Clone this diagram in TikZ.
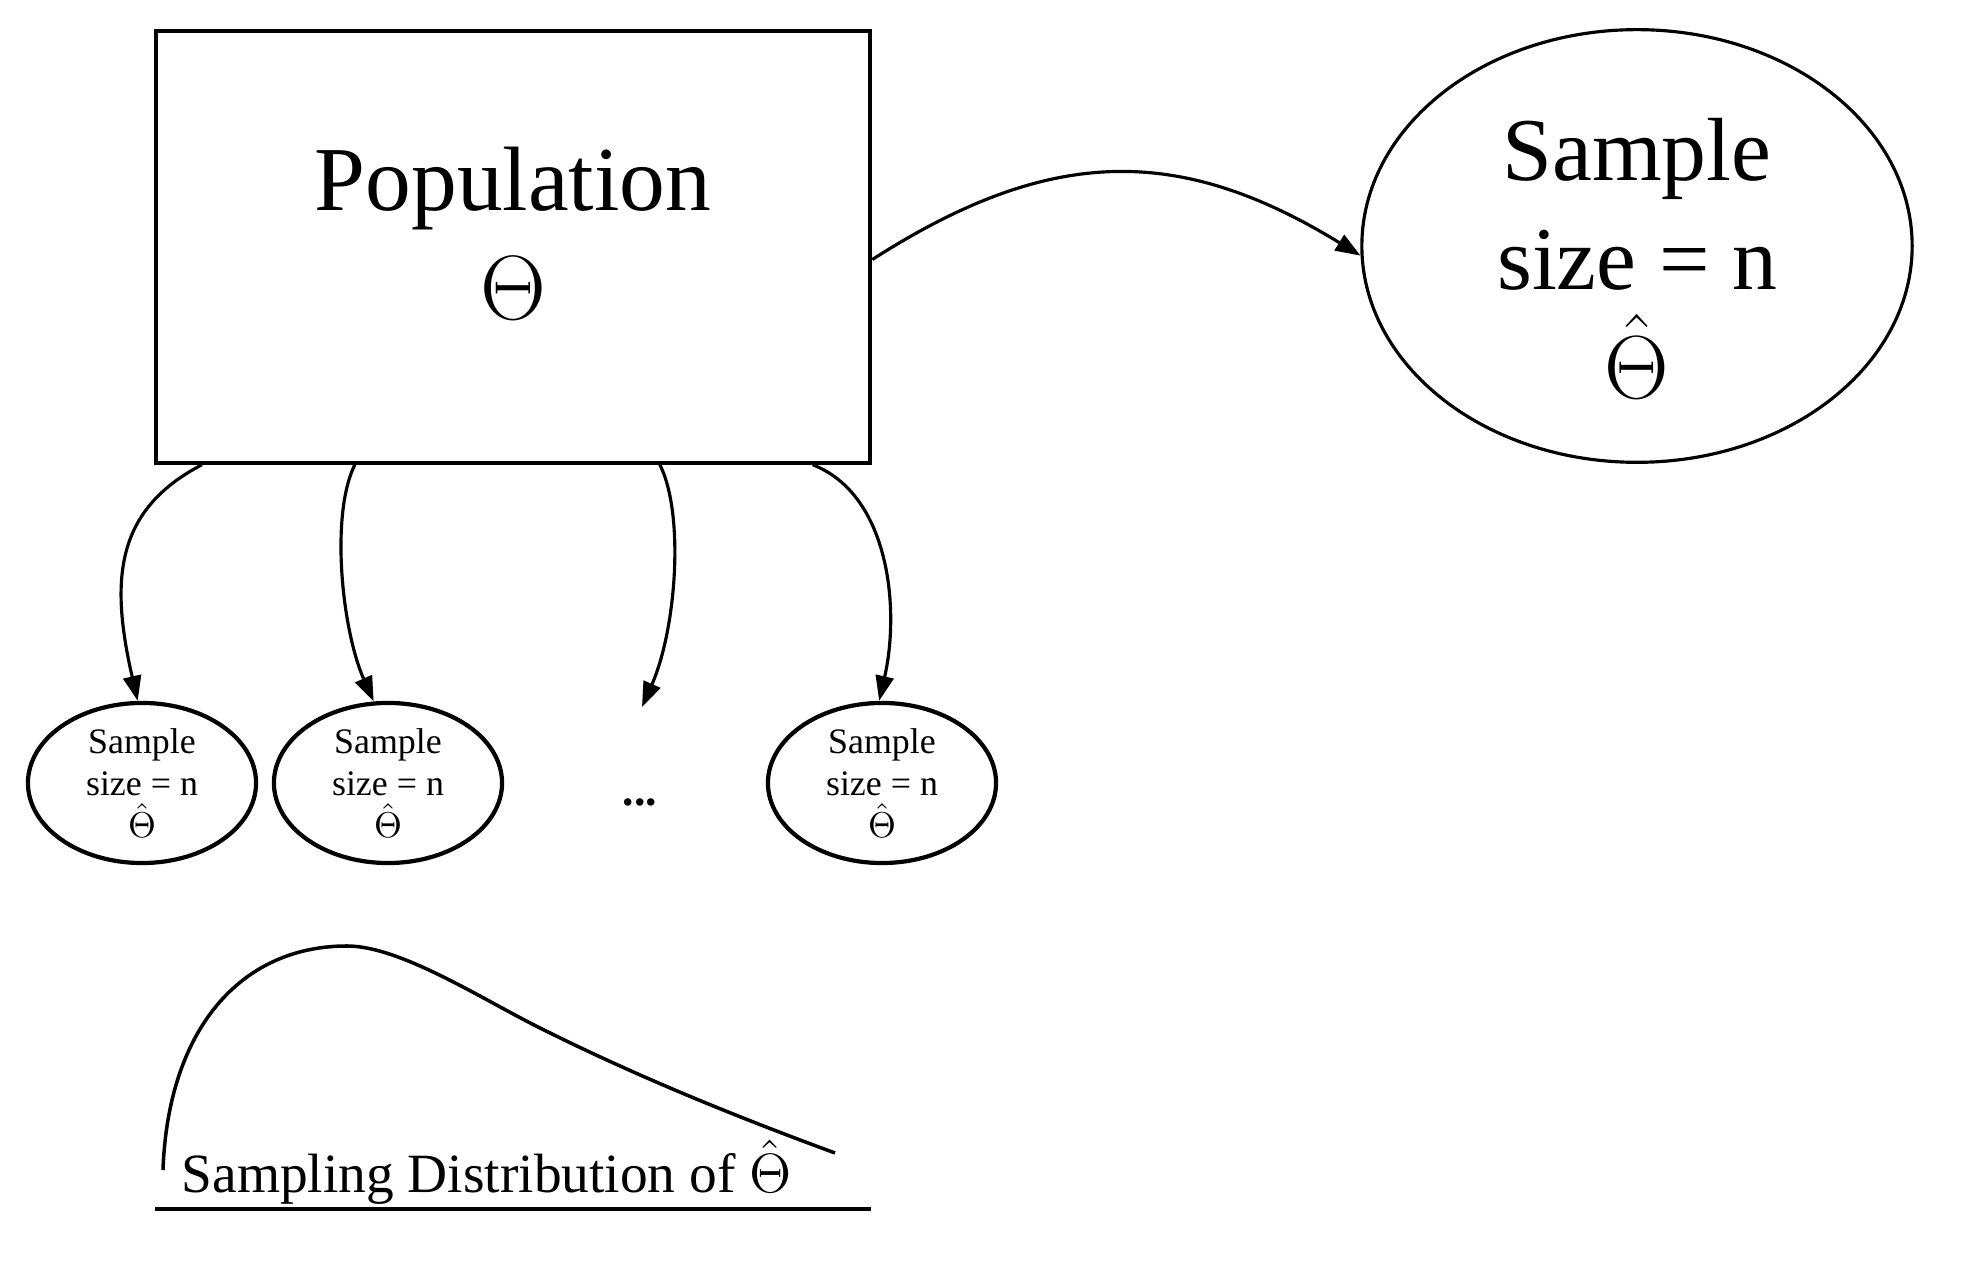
\RequirePackage{fix-cm}
\documentclass[tikz,border=0pt]{standalone}
\usepackage[no-math]{fontspec}
\setmainfont{Liberation Serif}
\usetikzlibrary{shapes.geometric,arrows.meta}
\begin{document}
\begin{tikzpicture}[x=0.01cm,y=-0.01cm,
	popbox/.style={draw, line width=1.2pt, minimum width=7.14cm, minimum height=4.31cm, align=center, font=\fontsize{26}{31}\selectfont},
	bigsample/.style={draw, ellipse, line width=0.9pt, minimum width=5.5cm, minimum height=3.82cm, inner sep=0pt, align=center, font=\fontsize{25.5}{31}\selectfont},
	sample/.style={draw, ellipse, line width=1.2pt, minimum width=2.28cm, minimum height=1.6cm, inner sep=0pt, align=center, font=\fontsize{10.2}{12}\selectfont},
	edge/.style={-{Triangle[length=2.5mm,width=1.8mm]}, line width=0.9pt}]
	
	\useasboundingbox (0,0) rectangle (1972,1280);
	
	\node[popbox] (pop) at (513,247) {Population\\$\Theta$\rule[-8pt]{0pt}{8pt}};
	\node[bigsample] (big) at (1637,246) {\rule{0pt}{25pt}Sample\\size = n\\$\hat{\Theta}$};
	
	\node[sample] (s1) at (142,783) {Sample\\size = n\\$\hat{\Theta}$};
	\node[sample] (s2) at (388,783) {Sample\\size = n\\$\hat{\Theta}$};
	\node[sample] (s3) at (882,783) {Sample\\size = n\\$\hat{\Theta}$};
	\node[anchor=base, font=\bfseries\fontsize{13}{15}\selectfont] (dots) at (640,806) {...};
	\coordinate (dotstop) at (642,707);
	
	\draw[edge] (pop.-2) .. controls (1051,145) and (1180,145) .. (big.182);
	\draw[edge] (pop.215) .. controls (115,510) and (110,580) .. (s1.93);
	\draw[edge] (pop.234) .. controls (330,515) and (342,630) .. (s2.100);
	\draw[edge] (pop.304) .. controls (685,515) and (676,630) .. (dotstop);
	\draw[edge] (pop.324) .. controls (890,495) and (900,610) .. (s3.92);
	
	% sampling distribution
	\draw[line width=1pt] (163,1170) .. controls (168,1030) and (240,946) .. (347,946)
		.. controls (400,946) and (480,998) .. (540,1028)
		.. controls (640,1078) and (740,1118) .. (835,1153);
	\node[anchor=base west, inner sep=0pt, font=\fontsize{15.75}{18}\selectfont] (distlabel) at (181,1193) {Sampling Distribution of $\hat{\Theta}$};
	\draw[line width=1.2pt] (155,1209) -- (871,1209);
\end{tikzpicture}
\end{document}
